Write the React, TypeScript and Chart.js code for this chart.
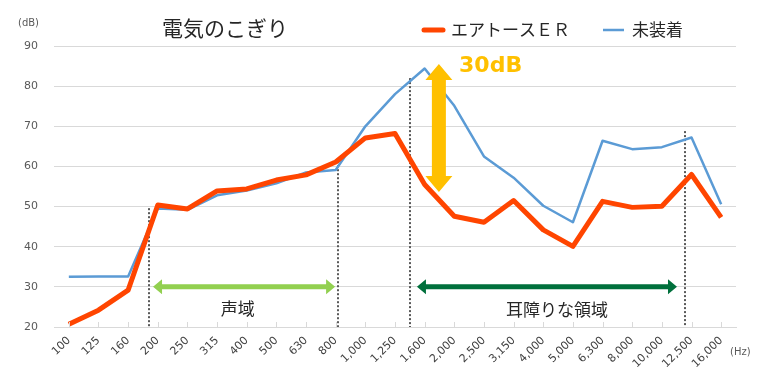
import React, { useEffect, useRef } from 'react';
import { Chart, registerables } from 'chart.js';

Chart.register(...registerables);

const categories = ['100', '125', '160', '200', '250', '315', '400', '500', '630', '800', '1,000', '1,250', '1,600', '2,000', '2,500', '3,150', '4,000', '5,000', '6,300', '8,000', '10,000', '12,500', '16,000'];
const earToseER = [20.7, 24.2, 29.2, 50.4, 49.4, 53.9, 54.4, 56.6, 57.9, 61.1, 67.1, 68.2, 55.5, 47.6, 46.1, 51.5, 44.2, 40.1, 51.3, 49.8, 50.1, 58.0, 47.3];
const noProtection = [32.5, 32.6, 32.6, 49.5, 49.2, 52.8, 54.0, 55.8, 58.5, 59.1, 70.0, 78.0, 84.4, 75.1, 62.5, 57.2, 50.2, 46.1, 66.4, 64.3, 64.8, 67.2, 50.6];
const yMin = 20;
const yMax = 90;
const yStep = 10;

const seriesNames = ['エアトースＥＲ', '未装着'];
const titleText = '電気のこぎり';
const jpFont = '"Noto Sans CJK JP", "Noto Sans", sans-serif';
const numFont = '"DejaVu Sans", Verdana, sans-serif';
const ORANGE = '#FF4500';
const BLUE = '#5B9BD5';

function hArrow(ctx: CanvasRenderingContext2D, x1: number, x2: number, yc: number, t: number, hl: number, hh: number, color: string) {
  ctx.save();
  ctx.fillStyle = color;
  ctx.beginPath();
  ctx.moveTo(x1, yc);
  ctx.lineTo(x1 + hl, yc - hh);
  ctx.lineTo(x1 + hl, yc - t / 2);
  ctx.lineTo(x2 - hl, yc - t / 2);
  ctx.lineTo(x2 - hl, yc - hh);
  ctx.lineTo(x2, yc);
  ctx.lineTo(x2 - hl, yc + hh);
  ctx.lineTo(x2 - hl, yc + t / 2);
  ctx.lineTo(x1 + hl, yc + t / 2);
  ctx.lineTo(x1 + hl, yc + hh);
  ctx.closePath();
  ctx.fill();
  ctx.restore();
}

function vArrow(ctx: CanvasRenderingContext2D, xc: number, y1: number, y2: number, t: number, hl: number, hw: number, color: string) {
  ctx.save();
  ctx.fillStyle = color;
  ctx.beginPath();
  ctx.moveTo(xc, y1);
  ctx.lineTo(xc + hw, y1 + hl);
  ctx.lineTo(xc + t / 2, y1 + hl);
  ctx.lineTo(xc + t / 2, y2 - hl);
  ctx.lineTo(xc + hw, y2 - hl);
  ctx.lineTo(xc, y2);
  ctx.lineTo(xc - hw, y2 - hl);
  ctx.lineTo(xc - t / 2, y2 - hl);
  ctx.lineTo(xc - t / 2, y1 + hl);
  ctx.lineTo(xc - hw, y1 + hl);
  ctx.closePath();
  ctx.fill();
  ctx.restore();
}

const dividers = [
  { x: 2.7, top: 49.6 },
  { x: 9.07, top: 61.3 },
  { x: 11.51, top: 82 },
  { x: 20.78, top: 68.8 },
];

const annotationPlugin = {
  id: 'annotations',
  beforeDatasetsDraw(chart: any) {
    const { ctx, scales } = chart;
    const x = scales.x;
    const y = scales.y;
    ctx.save();
    ctx.strokeStyle = '#595959';
    ctx.lineWidth = 2;
    ctx.setLineDash([2, 2]);
    for (const d of dividers) {
      const px = Math.round(x.getPixelForValue(d.x));
      ctx.beginPath();
      ctx.moveTo(px, y.getPixelForValue(d.top));
      ctx.lineTo(px, y.getPixelForValue(yMin));
      ctx.stroke();
    }
    ctx.restore();
  },
  afterDatasetsDraw(chart: any) {
    const { ctx, scales } = chart;
    const x = scales.x;
    const y = scales.y;
    vArrow(ctx, x.getPixelForValue(12.48), y.getPixelForValue(85.5), y.getPixelForValue(53.6), 14, 16, 13.5, '#FFC000');
    ctx.save();
    ctx.fillStyle = '#FFC000';
    ctx.font = 'bold 22px ' + numFont;
    ctx.textAlign = 'left';
    ctx.textBaseline = 'middle';
    ctx.fillText('30dB', x.getPixelForValue(13.16), y.getPixelForValue(84.9));
    ctx.restore();
    hArrow(ctx, x.getPixelForValue(2.84), x.getPixelForValue(8.98), y.getPixelForValue(30), 5, 9, 7.5, '#92D050');
    hArrow(ctx, x.getPixelForValue(11.74), x.getPixelForValue(20.51), y.getPixelForValue(30), 5, 9, 7.5, '#00703C');
    ctx.save();
    ctx.fillStyle = '#262626';
    ctx.font = '17px ' + jpFont;
    ctx.textAlign = 'center';
    ctx.textBaseline = 'middle';
    ctx.fillText('声域', x.getPixelForValue(5.7), y.getPixelForValue(24.7));
    ctx.fillText('耳障りな領域', x.getPixelForValue(16.46), y.getPixelForValue(24.3));
    ctx.restore();
  },
  afterDraw(chart: any) {
    const { ctx, scales, chartArea } = chart;
    const x = scales.x;
    ctx.save();
    ctx.strokeStyle = '#D9D9D9';
    ctx.lineWidth = 1;
    for (let i = 0; i < categories.length; i++) {
      const px = Math.round(x.getPixelForValue(i)) + 0.5;
      ctx.beginPath();
      ctx.moveTo(px, chartArea.bottom - 5);
      ctx.lineTo(px, chartArea.bottom);
      ctx.stroke();
    }
    ctx.fillStyle = '#262626';
    ctx.font = '21px ' + jpFont;
    ctx.textAlign = 'center';
    ctx.textBaseline = 'middle';
    ctx.fillText(titleText, 225, 28);
    ctx.lineCap = 'round';
    ctx.strokeStyle = ORANGE;
    ctx.lineWidth = 5;
    ctx.beginPath();
    ctx.moveTo(424, 30);
    ctx.lineTo(443, 30);
    ctx.stroke();
    ctx.strokeStyle = BLUE;
    ctx.lineWidth = 2.5;
    ctx.lineCap = 'butt';
    ctx.beginPath();
    ctx.moveTo(603, 30);
    ctx.lineTo(624, 30);
    ctx.stroke();
    ctx.font = '17px ' + jpFont;
    ctx.textAlign = 'left';
    ctx.fillText(seriesNames[0], 451, 30);
    ctx.fillText(seriesNames[1], 632, 30);
    ctx.fillStyle = '#595959';
    ctx.font = '10px ' + numFont;
    ctx.textAlign = 'right';
    ctx.fillText('(dB)', 39, 23);
    ctx.textAlign = 'left';
    ctx.fillText('(Hz)', 730, 352);
    ctx.restore();
  },
};

export default function App() {
  const ref = useRef<HTMLCanvasElement>(null);
  useEffect(() => {
    document.body.style.margin = '0';
    const c = ref.current;
    if (!c) return;
    const chart = new Chart(c, {
      type: 'line',
      data: {
        labels: categories,
        datasets: [
          {
            label: seriesNames[0],
            data: earToseER,
            borderColor: ORANGE,
            backgroundColor: ORANGE,
            borderWidth: 5,
            pointRadius: 0,
            tension: 0,
            borderJoinStyle: 'round',
          },
          {
            label: seriesNames[1],
            data: noProtection,
            borderColor: BLUE,
            backgroundColor: BLUE,
            borderWidth: 2.5,
            pointRadius: 0,
            tension: 0,
            borderJoinStyle: 'round',
          },
        ],
      },
      options: {
        animation: false,
        responsive: false,
        maintainAspectRatio: false,
        layout: { padding: { top: 46, right: 32, left: 0, bottom: 0 } },
        plugins: {
          legend: { display: false },
          title: { display: false },
          tooltip: { enabled: false },
        },
        scales: {
          x: {
            type: 'category',
            offset: true,
            grid: { display: false, drawOnChartArea: false, drawTicks: false },
            border: { display: true, color: '#D9D9D9', width: 1 },
            ticks: {
              autoSkip: false,
              maxRotation: 45,
              minRotation: 45,
              padding: 7,
              color: '#404040',
              font: { family: numFont, size: 11 },
            },
            afterFit: (s: any) => { s.height = 55; },
          },
          y: {
            min: yMin,
            max: yMax,
            ticks: {
              stepSize: yStep,
              padding: 16,
              color: '#595959',
              font: { family: numFont, size: 11 },
            },
            grid: { color: '#D9D9D9', drawTicks: false },
            border: { display: false },
            afterFit: (s: any) => { s.width = 54; },
          },
        },
      },
      plugins: [annotationPlugin],
    });
    return () => chart.destroy();
  }, []);
  return (
    <div style={{ width: 768, height: 382, position: 'relative', background: '#fff' }}>
      <canvas ref={ref} width={768} height={382} style={{ display: 'block' }} />
    </div>
  );
}
